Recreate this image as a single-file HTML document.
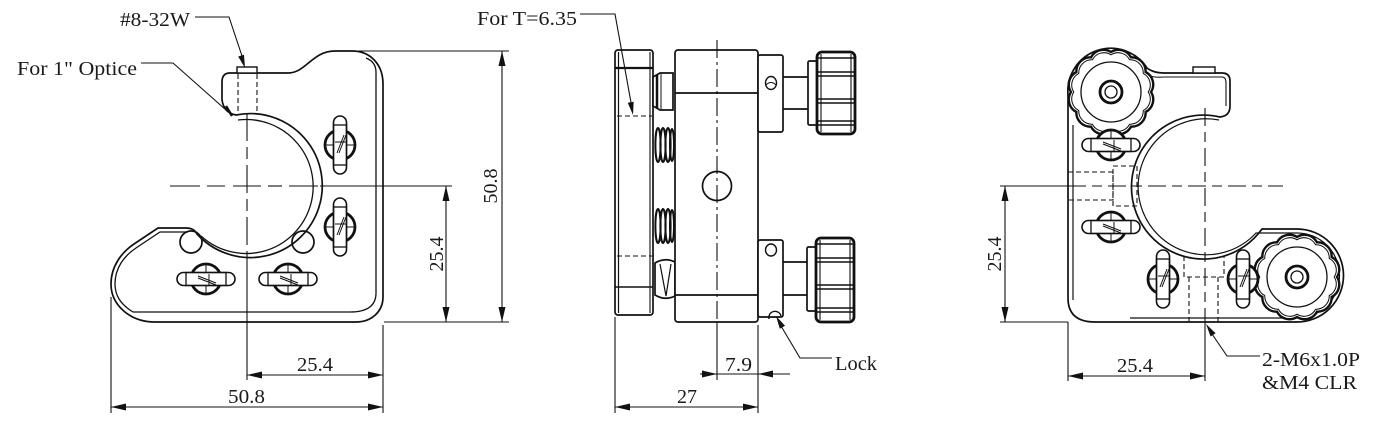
<!DOCTYPE html>
<html><head><meta charset="utf-8"><style>
html,body{margin:0;padding:0;background:#fff;}
svg{display:block;}
text{font-family:"Liberation Serif",serif;font-size:20px;fill:#1a1a1a;}
</style></head><body>
<svg width="1383" height="425" viewBox="0 0 1383 425" xmlns="http://www.w3.org/2000/svg">
<defs>
 <g id="adj">
  <circle r="15" fill="#fff" stroke="#111" stroke-width="2.8"/>
  <line x1="-15" y1="0" x2="15" y2="0" stroke="#111" stroke-width="1"/>
  <line x1="0" y1="-15" x2="0" y2="15" stroke="#111" stroke-width="1"/>
  <rect x="-6.5" y="-29" width="13" height="58" rx="6.5" fill="#fff" stroke="#111" stroke-width="1.6"/>
  <rect x="-6.5" y="-20" width="13" height="40" fill="none" stroke="#111" stroke-width="1.3"/>
  <line x1="-5" y1="-3" x2="6" y2="-3" stroke="#111" stroke-width="1"/>
  <line x1="-3" y1="8" x2="4" y2="-10" stroke="#111" stroke-width="1"/>
  <line x1="-1" y1="8" x2="6" y2="-10" stroke="#111" stroke-width="1"/>
 </g>
 <g id="knob">
  <path d="M40,0 A14,14 0 0 1 34.64,20 A14,14 0 0 1 20,34.64 A14,14 0 0 1 0,40 A14,14 0 0 1 -20,34.64 A14,14 0 0 1 -34.64,20 A14,14 0 0 1 -40,0 A14,14 0 0 1 -34.64,-20 A14,14 0 0 1 -20,-34.64 A14,14 0 0 1 0,-40 A14,14 0 0 1 20,-34.64 A14,14 0 0 1 34.64,-20 A14,14 0 0 1 40,0 Z" fill="#fff" stroke="#111" stroke-width="2.4"/>
  <path transform="scale(0.93)" d="M40,0 A14,14 0 0 1 34.64,20 A14,14 0 0 1 20,34.64 A14,14 0 0 1 0,40 A14,14 0 0 1 -20,34.64 A14,14 0 0 1 -34.64,20 A14,14 0 0 1 -40,0 A14,14 0 0 1 -34.64,-20 A14,14 0 0 1 -20,-34.64 A14,14 0 0 1 0,-40 A14,14 0 0 1 20,-34.64 A14,14 0 0 1 34.64,-20 A14,14 0 0 1 40,0 Z" fill="none" stroke="#111" stroke-width="1.1"/>
  <circle r="30" fill="none" stroke="#111" stroke-width="1.3"/>
  <circle r="11" fill="none" stroke="#111" stroke-width="2.8"/>
  <circle r="6" fill="none" stroke="#111" stroke-width="1.3"/>
 </g>
</defs>

<g fill="none" stroke="#111" stroke-width="1.7">
<!-- ================= LEFT VIEW ================= -->
 <path d="M222,82 Q222,73 230,73 L288,73 C306,73 312,51 335,51 L352,51 C370,51 383,64 383,84 L383,297 C383,312 371,322 356,322 L155,322 C130,322 111,305 111,284 C111,266 122,252 134,244 L158,228 L186,228 Q194,228 197,234 A72,72 0 1,0 236,115 Q224,113 222,100 Z" fill="#fff"/>
 <path d="M201,236 A67,67 0 1,0 238,120" stroke-width="1.3"/>
 <path d="M366,58 Q376,62 376,72 L376,293 Q376,312 350,312 L133,312 C120,304 115,295 115,284 C115,268 124,256 136,248 L160,232 L188,232" stroke-width="1.3"/>
 <path d="M226,106 L232,116" stroke-width="2.5"/>
 <circle cx="191" cy="242" r="11"/>
 <circle cx="303" cy="242" r="11"/>
 <rect x="237" y="67" width="20" height="6" fill="#fff" stroke-width="1.4"/>
 <g stroke-width="1.1" stroke-dasharray="5 3">
  <line x1="238" y1="74" x2="238" y2="112"/>
  <line x1="257" y1="74" x2="257" y2="112"/>
 </g>
 <g stroke-width="1.1">
  <line x1="170" y1="186" x2="200" y2="186"/>
  <line x1="207" y1="186" x2="225" y2="186"/>
  <line x1="233" y1="186" x2="261" y2="186"/>
  <line x1="268" y1="186" x2="282" y2="186"/>
  <line x1="289" y1="186" x2="318" y2="186"/>
  <line x1="320" y1="186" x2="452" y2="186"/>
  <line x1="247" y1="113" x2="247" y2="257" stroke-dasharray="28 6 12 6"/>
  <line x1="247" y1="257" x2="247" y2="380"/>
 </g>
</g>
<use href="#adj" x="340" y="145"/>
<use href="#adj" x="340" y="227"/>
<use href="#adj" transform="translate(206,279) rotate(90)"/>
<use href="#adj" transform="translate(288,279) rotate(90)"/>

<g stroke="#111" stroke-width="1.1" fill="none">
 <line x1="111" y1="297" x2="111" y2="413"/>
 <line x1="383" y1="325" x2="383" y2="413"/>
 <line x1="247" y1="375" x2="383" y2="375"/>
 <line x1="111" y1="407" x2="383" y2="407"/>
 <line x1="358" y1="51" x2="509" y2="51"/>
 <line x1="384" y1="322" x2="509" y2="322"/>
 <line x1="446" y1="186" x2="446" y2="322"/>
 <line x1="502" y1="51" x2="502" y2="322"/>
 <polyline points="195,17 229,17 244,62"/>
 <polyline points="141,63 173,63 226,110"/>
</g>
<g fill="#111">
 <polygon points="247,375 262,371.5 262,378.5"/>
 <polygon points="383,375 368,371.5 368,378.5"/>
 <polygon points="111,407 126,403.5 126,410.5"/>
 <polygon points="383,407 368,403.5 368,410.5"/>
 <polygon points="446,186 442.5,201 449.5,201"/>
 <polygon points="446,322 442.5,307 449.5,307"/>
 <polygon points="502,51 498.5,66 505.5,66"/>
 <polygon points="502,322 498.5,307 505.5,307"/>
 <polygon points="245,68 243.96,54.7 238.2,56.5"/>
</g>
<text x="120" y="26" textLength="70" lengthAdjust="spacingAndGlyphs">#8-32W</text>
<text x="17" y="75" textLength="120" lengthAdjust="spacingAndGlyphs">For 1" Optice</text>
<text x="297" y="371" textLength="36" lengthAdjust="spacingAndGlyphs">25.4</text>
<text x="228" y="403" textLength="37" lengthAdjust="spacingAndGlyphs">50.8</text>
<text transform="translate(443,254) rotate(-90)" text-anchor="middle">25.4</text>
<text transform="translate(497,186) rotate(-90)" text-anchor="middle">50.8</text>

<!-- ================= MIDDLE VIEW ================= -->
<g fill="none" stroke="#111" stroke-width="1.7">
 <rect x="615" y="50" width="38" height="265" rx="3" fill="#fff"/>
 <line x1="618.5" y1="52" x2="618.5" y2="313" stroke-width="1.2"/>
 <line x1="650" y1="52" x2="650" y2="313" stroke-width="1.1"/>
 <line x1="615" y1="68" x2="653" y2="68" stroke-width="2.2"/>
 <line x1="615" y1="287" x2="653" y2="287" stroke-width="1.6"/>
 <line x1="617" y1="116" x2="652" y2="116" stroke-width="1.1" stroke-dasharray="5 3"/>
 <line x1="617" y1="256" x2="652" y2="256" stroke-width="1.1" stroke-dasharray="5 3"/>
 <path d="M653,77 L660,73 L673,73 L673,110 L660,110 L653,106 Z" fill="#fff"/>
 <line x1="657" y1="75" x2="657" y2="108" stroke-width="2.5"/>
 <line x1="661" y1="74" x2="661" y2="109" stroke-width="1"/>
 <g stroke-width="2">
  <ellipse cx="658" cy="145" rx="2.6" ry="17"/>
  <ellipse cx="663" cy="145" rx="2.6" ry="17"/>
  <ellipse cx="668" cy="145" rx="2.6" ry="17"/>
  <ellipse cx="672" cy="145" rx="2" ry="16"/>
  <ellipse cx="658" cy="226" rx="2.6" ry="17"/>
  <ellipse cx="663" cy="226" rx="2.6" ry="17"/>
  <ellipse cx="668" cy="226" rx="2.6" ry="17"/>
  <ellipse cx="672" cy="226" rx="2" ry="16"/>
 </g>
 <path d="M655,263 Q665,257 675,262 L675,296 Q665,301 655,295 Z" fill="#fff"/>
 <path d="M660,264 L666,296 L671,264" stroke-width="1.2"/>
 <rect x="675" y="50" width="83" height="272" rx="3" fill="#fff"/>
 <line x1="675" y1="93" x2="758" y2="93"/>
 <line x1="675" y1="295" x2="758" y2="295"/>
 <circle cx="717" cy="186" r="14.5"/>
 <rect x="758" y="55" width="25" height="77" rx="2" fill="#fff"/>
 <rect x="758" y="240" width="25" height="77" rx="2" fill="#fff"/>
 <ellipse cx="771" cy="83" rx="5.5" ry="6.5" stroke-width="1.4"/>
 <path d="M766,85 Q771,80 776,85" stroke-width="1"/>
 <ellipse cx="771" cy="250" rx="5.5" ry="6" stroke-width="1.4"/>
 <path d="M769,319 A6,6 0 0 1 781,316" stroke-width="1.4"/>
 <line x1="783" y1="77" x2="808" y2="77"/>
 <line x1="783" y1="109" x2="808" y2="109"/>
 <line x1="783" y1="262" x2="808" y2="262"/>
 <line x1="783" y1="295" x2="808" y2="295"/>
 <rect x="808" y="61" width="9" height="64" rx="1.5" fill="#fff"/>
 <rect x="817" y="52" width="38" height="82" rx="5" fill="#fff" stroke-width="2.8"/>
 <line x1="821" y1="54" x2="821" y2="132" stroke-width="1.1"/>
 <line x1="851" y1="54" x2="851" y2="132" stroke-width="1.1"/>
 <g stroke-width="1.4">
  <line x1="817" y1="58" x2="855" y2="58"/>
  <line x1="817" y1="72" x2="855" y2="72"/>
  <line x1="817" y1="76" x2="855" y2="76"/>
  <line x1="817" y1="99" x2="855" y2="99"/>
  <line x1="817" y1="103" x2="855" y2="103"/>
  <line x1="817" y1="121" x2="855" y2="121"/>
  <line x1="817" y1="125" x2="855" y2="125"/>
 </g>
 <rect x="807" y="247" width="9" height="64" rx="1.5" fill="#fff"/>
 <rect x="816" y="238" width="38" height="84" rx="5" fill="#fff" stroke-width="2.8"/>
 <line x1="820" y1="240" x2="820" y2="320" stroke-width="1.1"/>
 <line x1="850" y1="240" x2="850" y2="320" stroke-width="1.1"/>
 <g stroke-width="1.4">
  <line x1="816" y1="244" x2="854" y2="244"/>
  <line x1="816" y1="258" x2="854" y2="258"/>
  <line x1="816" y1="262" x2="854" y2="262"/>
  <line x1="816" y1="285" x2="854" y2="285"/>
  <line x1="816" y1="289" x2="854" y2="289"/>
  <line x1="816" y1="308" x2="854" y2="308"/>
  <line x1="816" y1="312" x2="854" y2="312"/>
 </g>
</g>
<g stroke="#111" stroke-width="1.1" fill="none">
 <line x1="717" y1="40" x2="717" y2="322" stroke-dasharray="18 4 3 4"/>
 <line x1="717" y1="322" x2="717" y2="380"/>
 <line x1="615" y1="317" x2="615" y2="413"/>
 <line x1="758" y1="325" x2="758" y2="413"/>
 <line x1="700" y1="374" x2="790" y2="374"/>
 <line x1="615" y1="407" x2="758" y2="407"/>
 <polyline points="580,14 615,14 632,108"/>
 <polyline points="781,326 800,358 832,358"/>
</g>
<g fill="#111">
 <polygon points="717,374 702,370.5 702,377.5"/>
 <polygon points="758,374 773,370.5 773,377.5"/>
 <polygon points="615,407 630,403.5 630,410.5"/>
 <polygon points="758,407 743,403.5 743,410.5"/>
 <polygon points="633,115 633.65,101.7 627.75,102.7"/>
 <polygon points="776,316 785,325.8 779.8,328.8"/>
</g>
<text x="477" y="25" textLength="100" lengthAdjust="spacingAndGlyphs">For T=6.35</text>
<text x="835" y="370" textLength="42" lengthAdjust="spacingAndGlyphs">Lock</text>
<text x="725" y="371" textLength="27" lengthAdjust="spacingAndGlyphs">7.9</text>
<text x="677" y="403" textLength="20" lengthAdjust="spacingAndGlyphs">27</text>

<!-- ================= RIGHT VIEW ================= -->
<g fill="none" stroke="#111" stroke-width="1.7">
 <path d="M1068,298 L1068,95 A43,43 0 0 1 1147,68 C1152,72 1158,73 1166,73 L1222,73 Q1230,73 1230,81 L1230,106 Q1230,116 1220,117 A72,72 0 1,0 1262,229 L1297,229 A46.5,46.5 0 0 1 1297,322 L1095,322 Q1068,322 1068,298 Z" fill="#fff"/>
 <line x1="1073" y1="125" x2="1073" y2="300" stroke-width="1.2"/>
 <path d="M1219,120 A68,68 0 1,0 1256,233 L1297,233 A42.5,42.5 0 0 1 1297,318 L1130,318" stroke-width="1.2"/>
 <path d="M1150,76 C1156,78 1160,77 1166,77 L1222,77 Q1226,77 1226,83 L1226,106" stroke-width="1.1"/>
 <rect x="1193" y="67" width="22" height="6" fill="#fff" stroke-width="1.4"/>
 <g stroke-width="1.1" stroke-dasharray="5 3">
  <rect x="1068" y="172" width="45" height="28"/>
  <rect x="1113" y="166" width="24" height="40"/>
  <path d="M1184,256 L1184,277 L1224,277 L1224,256"/>
  <path d="M1189,322 L1189,277 M1218,277 L1218,322"/>
 </g>
 <g stroke-width="1.1">
  <line x1="1000" y1="186" x2="1068" y2="186"/>
  <line x1="1068" y1="186" x2="1283" y2="186" stroke-dasharray="18 6 10 6"/>
  <line x1="1205" y1="108" x2="1205" y2="322" stroke-dasharray="18 6 10 6"/>
 </g>
</g>
<use href="#knob" x="1111" y="92"/>
<use href="#knob" x="1297" y="277"/>
<use href="#adj" transform="translate(1111,145) rotate(90)"/>
<use href="#adj" transform="translate(1111,227) rotate(90)"/>
<use href="#adj" x="1163" y="279"/>
<use href="#adj" x="1243" y="279"/>

<g stroke="#111" stroke-width="1.1" fill="none">
 <line x1="1000" y1="322" x2="1068" y2="322"/>
 <line x1="1005" y1="186" x2="1005" y2="322"/>
 <line x1="1068" y1="322" x2="1068" y2="381"/>
 <line x1="1205" y1="322" x2="1205" y2="381"/>
 <line x1="1068" y1="376" x2="1205" y2="376"/>
 <polyline points="1212,334 1227,356 1260,356"/>
</g>
<g fill="#111">
 <polygon points="1005,186 1001.5,201 1008.5,201"/>
 <polygon points="1005,322 1001.5,307 1008.5,307"/>
 <polygon points="1068,376 1083,372.5 1083,379.5"/>
 <polygon points="1205,376 1190,372.5 1190,379.5"/>
 <polygon points="1206,324 1215.6,333.3 1210.6,336.5"/>
</g>
<text transform="translate(1001,254) rotate(-90)" text-anchor="middle">25.4</text>
<text x="1117" y="372" textLength="36" lengthAdjust="spacingAndGlyphs">25.4</text>
<text x="1262" y="366" textLength="98" lengthAdjust="spacingAndGlyphs">2-M6x1.0P</text>
<text x="1262" y="389" textLength="95" lengthAdjust="spacingAndGlyphs">&amp;M4 CLR</text>
</svg>
</body></html>
